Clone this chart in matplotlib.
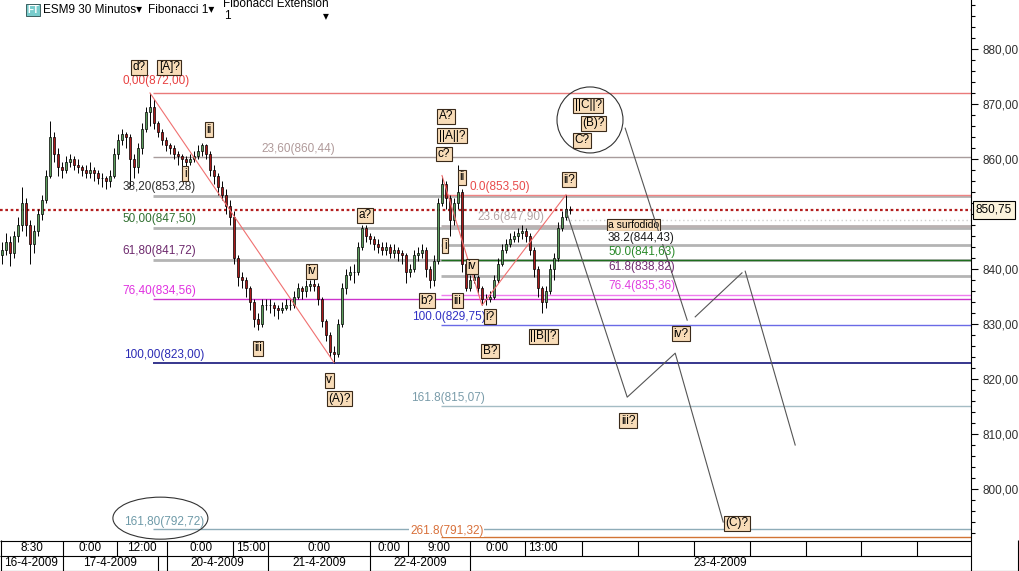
import matplotlib.pyplot as plt
import numpy as np
from matplotlib.patches import Ellipse
from matplotlib.ticker import MultipleLocator, FuncFormatter

plt.rcParams['font.family'] = ['Liberation Sans', 'DejaVu Sans']

# 30 minute bars of ESM9 (open = previous close)
first_open = 842.5
closes = [843.5, 845, 843, 846, 848, 852, 848, 844.5, 847, 850,
          852.5, 857, 864, 861, 858.5, 858, 859.5, 860, 859, 858.5,
          858, 857.5, 858, 857.5, 856.5, 856.5, 856, 857, 861, 863.5,
          864.5, 864, 860, 858.5, 862, 865.5, 868.5, 869.5, 866.5, 865,
          863.5, 862.5, 862, 861, 860.5, 860, 859.5, 860, 860.5, 861.5,
          862.5, 861, 858, 857, 855, 853.5, 851.5, 849.5, 842, 838.5,
          838, 836.5, 834, 831, 830, 833.5, 833.5, 833.5, 833, 832.5,
          833, 833.5, 833.5, 835, 836.5, 836, 837, 837.2, 837, 834.5,
          830.5, 828, 825, 824.5, 830, 836.5, 839, 839.5, 839.5, 844,
          847.5, 846, 845.5, 844.5, 844, 843.5, 844, 843, 843.5, 843,
          842.5, 839.5, 840, 842.5, 843, 843.5, 840, 838, 841.5, 852,
          855.5, 853, 849, 852, 854, 841, 836.5, 838, 838.5, 836.5,
          834.5, 834.5, 835, 838, 841, 843.5, 844.5, 845.5, 846, 846.5,
          847, 846, 843.5, 840, 836.5, 834, 836, 840, 842, 847.5,
          849.5, 851, 850.75]
highs = [845, 846.5, 846, 847, 849.5, 855, 853, 849, 848, 851,
         853.5, 858, 867, 865, 862, 859.5, 860.5, 861, 860.5, 860,
         859, 859, 859.5, 858.5, 858, 857.5, 857, 858, 862, 864.5,
         865.5, 865, 864.5, 861, 863, 866.5, 869.5, 872, 871, 867,
         865.5, 864, 863, 862.5, 861.5, 861, 860.5, 861, 861.5, 862.5,
         863, 862.8, 861.5, 859, 857.5, 856, 854.5, 852.5, 850.5, 842.5,
         839.5, 838.5, 837, 834.5, 832, 834.5, 834.5, 834.5, 834, 833.5,
         834, 834.5, 834.5, 836, 837.5, 837, 838, 838, 838.4, 837.5,
         835, 831, 828.5, 826, 831, 837.5, 840, 840.5, 841, 845,
         848, 848, 846.5, 846, 845.5, 845, 845, 844.5, 844.5, 844,
         843.5, 843, 841, 843.5, 844, 844.5, 844, 840.5, 842.5, 853,
         857, 856, 853.5, 853, 858.9, 854.5, 841.5, 839, 839.5, 839,
         837, 835.5, 836, 839, 842, 844.5, 845.5, 846.5, 847, 847.5,
         848, 847.5, 846.5, 844, 840.5, 837, 837, 841, 843, 848.5,
         850.5, 853.5, 851.5]
lows = [841, 842.5, 840.5, 842, 845, 847, 846, 841, 843, 846,
        849, 852, 856.5, 859.5, 857, 856.5, 857.5, 858.5, 858, 857.5,
        857, 856.5, 856.5, 856, 855.5, 855, 854.5, 855, 856.5, 860,
        862.5, 862, 855, 856.5, 857.5, 861, 865, 866, 865.5, 864,
        862.5, 861.5, 861, 860, 859, 858.5, 858.5, 859, 859.5, 860,
        860.5, 860, 857, 855.5, 853.5, 852.5, 850, 848, 841, 837,
        836.5, 835, 832.5, 829.5, 828.9, 829.5, 832.5, 832, 831.5, 831,
        832, 832.5, 832.5, 833, 834.5, 834.5, 835, 836, 836, 833.5,
        829.5, 827, 824, 823, 824, 829.5, 835.5, 838, 837.5, 839,
        843.5, 845, 844.5, 843.5, 843, 842.5, 842.5, 842, 842, 841.5,
        841, 837.4, 838.5, 839.5, 841.5, 842, 838.5, 836.5, 837, 841,
        851.5, 851, 846, 848, 851, 839.5, 836, 836, 837.5, 835.5,
        833.4, 833.5, 834, 834.5, 837.5, 840.5, 843, 844, 845, 845,
        845.5, 845, 842.5, 838.5, 835, 832, 833, 835.5, 838, 841.5,
        847, 849, 850]
last_price = 850.75

# Fibonacci 1 (872,00 -> 823,00)
fib1_levels = [872.00, 860.44, 853.28, 847.50, 841.72, 834.56, 823.00, 792.72]
fib1_texts = ['0,00(872,00)', '23,60(860,44)', '38,20(853,28)', '50,00(847,50)',
              '61,80(841,72)', '76,40(834,56)', '100,00(823,00)', '161,80(792,72)']
fib1_line_colors = ['#ea7a7a', '#a89c9c', '#b4b4b4', '#b4b4b4', '#b4b4b4',
                    '#cc33cc', '#14147a', '#8eacb8']
fib1_line_widths = [1, 1, 2, 2, 2, 1, 1.2, 1]
fib1_text_colors = ['#e84040', '#b09a9a', '#303030', '#2f6f2f', '#6e2a6e',
                    '#e030e0', '#2a2ab4', '#6e9aa8']
fib1_text_pos = [(30.2, 874.1), (83.2, 861.9), (30.2, 854.9), (30.2, 849.1),
                 (30.2, 843.2), (30.2, 836.0), (30.5, 824.4), (30.5, 794.0)]
fib1_text_ha = ['left', 'right', 'left', 'left', 'left', 'left', 'left', 'left']

# Fibonacci Extension 1 (857,20 / 833,45 / 853,50)
fibx_levels = [853.50, 847.90, 844.43, 841.63, 838.82, 835.36, 829.75, 815.07, 791.32]
fibx_texts = ['0.0(853,50)', '23.6(847,90)', '38.2(844,43)', '50.0(841,63)',
              '61.8(838,82)', '76.4(835,36)', '100.0(829,75)', '161.8(815,07)',
              '261.8(791,32)']
fibx_line_colors = ['#f08484', '#bab2b2', '#b4b4b4', '#1e6e1e', '#b4b4b4',
                    '#f07cf0', '#6a6ae6', '#a4bcc4', '#d27434']
fibx_line_widths = [1, 2, 2, 1, 2, 1, 1, 1, 1]
fibx_text_colors = ['#e84a4a', '#b4a4a4', '#202020', '#2a8a2a', '#702a70',
                    '#e040e0', '#3030c4', '#7a9caa', '#d8703a']
fibx_text_pos = [(117.0, 854.9), (118.8, 849.4), (151.5, 845.7), (151.5, 843.1),
                 (151.5, 840.4), (151.5, 836.9), (102.5, 831.3), (102.3, 816.5),
                 (102.0, 792.4)]

# Elliott wave labels (text, bar, price)
wave_texts = ['d?', '[A]?', 'ii', 'i', 'iii', 'iv', 'v', '(A)?', 'a?', 'b?',
              'A?', '||A||?', 'c?', 'ii', 'i', 'iii', 'iv', 'i?', 'B?', '||B||?',
              'ii?', '||C||?', '(B)?', 'C?', 'iv?', 'iii?', '(C)?']
wave_x = [34.3, 41.8, 51.8, 45.8, 64.0, 77.3, 81.8, 84.3, 90.8, 106.3,
          111.0, 112.5, 110.5, 115.0, 110.8, 113.8, 117.5, 122.0, 122.0, 135.3,
          141.8, 146.5, 147.8, 145.0, 169.8, 156.5, 183.8]
wave_y = [876.7, 876.7, 865.3, 857.3, 825.6, 839.6, 819.8, 816.4, 849.8, 834.2,
          867.8, 864.2, 860.9, 856.7, 844.2, 834.2, 840.5, 831.3, 825.1, 827.8,
          856.2, 869.8, 866.5, 863.4, 828.2, 812.4, 793.8]

# projected paths (bar, price)
proj1_x = [141.0, 156.3, 168.3, 180.3]
proj1_y = [850.7, 816.7, 824.7, 794.0]
proj2_segments = [([155.8, 171.3], [865.6, 830.7]),
                  ([173.3, 185.0], [831.3, 839.3]),
                  ([185.8, 198.3], [839.6, 808.0])]

# time axis
row1_edges = [0, 63, 117, 167, 233, 268, 370, 408, 470, 525, 582, 638, 694,
              750, 806, 861, 917, 971]
row1_texts = ['8:30', '0:00', '12:00', '0:00', '15:00', '0:00', '0:00', '9:00',
              '0:00', '13:00']
row1_pos = [32, 90, 142, 201, 251, 319, 389, 439, 497, 543]
row2_edges = [0, 63, 158, 167, 268, 370, 470, 971]
row2_texts = ['16-4-2009', '17-4-2009', '20-4-2009', '21-4-2009', '22-4-2009', '23-4-2009']
row2_pos = [31, 110, 217, 319, 420, 720]

W, H = 1019, 571
PLOT_R, PLOT_B = 971, 540
Y_TOP, Y_BOT = 888.91, 790.73
UP, DOWN = '#5c9e5c', '#aa1a1a'

fig = plt.figure(figsize=(W / 100, H / 100), dpi=100)
ax = fig.add_axes([0, (H - PLOT_B) / H, PLOT_R / W, PLOT_B / H])
ax.set_xlim(-0.5, -0.5 + PLOT_R / 4)
ax.set_ylim(Y_BOT, Y_TOP)

x_end = -0.5 + PLOT_R / 4
fib1_start = 37.75
fibx_start = 109.75

for lvl, col, lw in zip(fib1_levels, fib1_line_colors, fib1_line_widths):
    ax.hlines(lvl, fib1_start, x_end, color=col, lw=lw, zorder=1)
for lvl, col, lw in zip(fibx_levels, fibx_line_colors, fibx_line_widths):
    ax.hlines(lvl, fibx_start, x_end, color=col, lw=lw, zorder=1)

for t, (tx, ty), col, ha in zip(fib1_texts, fib1_text_pos, fib1_text_colors, fib1_text_ha):
    ax.text(tx, ty, t, color=col, fontsize=8.5, ha=ha, va='center', zorder=6)
for i, (t, (tx, ty), col) in enumerate(zip(fibx_texts, fibx_text_pos, fibx_text_colors)):
    bb = None
    if i in (2, len(fibx_texts) - 1):
        bb = dict(boxstyle='square,pad=0.05', fc='white', ec='none')
    ax.text(tx, ty, t, color=col, fontsize=8.5, ha='left', va='center', zorder=7, bbox=bb)

# note box, mostly covered in the original
ax.text(151.5, 848.0, 'a surfodido', fontsize=7.5, ha='left', va='center', zorder=5,
        bbox=dict(boxstyle='square,pad=0.1', fc='#f8dcb8', ec='#3a2a1a', lw=0.8))

# current price line
ax.axhline(last_price, color='#b41e1e', lw=1.6, ls=(0, (1.2, 1.2)), zorder=2)
ax.hlines(848.9, 141, x_end, color='#d0d0d0', lw=1, ls=(0, (1, 2)), zorder=1)

# trend lines
ax.plot([37, 83], [highs[37], lows[83]], color='#f07070', lw=0.8, zorder=5)
ax.plot([110, 120, 141], [highs[110], lows[120], highs[141]], color='#f07070', lw=0.8, zorder=5)

# candles
opens = np.array([first_open] + closes[:-1])
c = np.array(closes)
x = np.arange(len(closes))
up = c >= opens
ax.vlines(x, lows, highs, color='black', lw=0.7, zorder=3)
ax.bar(x[up], (c - opens)[up], bottom=opens[up], width=0.72, color=UP,
       edgecolor='black', lw=0.5, zorder=4)
ax.bar(x[~up], (opens - c)[~up], bottom=c[~up], width=0.72, color=DOWN,
       edgecolor='black', lw=0.5, zorder=4)

# projections
ax.plot(proj1_x, proj1_y, color='#555555', lw=0.8, zorder=5)
for sx, sy in proj2_segments:
    ax.plot(sx, sy, color='#555555', lw=0.8, zorder=5)

# circles
ax.add_patch(Ellipse((147.0, 867.1), 16.5, 12.0, fill=False, ec='#333333', lw=0.8, zorder=5))
ax.add_patch(Ellipse((39.6, 794.7), 23.75, 7.64, fill=False, ec='#333333', lw=0.8, zorder=5))

box = dict(boxstyle='square,pad=0.12', fc='#f8dcb8', ec='#3a2a1a', lw=0.8)
for t, wx, wy in zip(wave_texts, wave_x, wave_y):
    ax.text(wx, wy, t, fontsize=8.5, ha='center', va='center', bbox=box, zorder=8)


def price_fmt(v, pos):
    if abs(v - 850) < 0.01:  # hidden behind the last price box
        return ''
    return f'{v:.2f}'.replace('.', ',')


# price axis
for s in ['top', 'left', 'bottom']:
    ax.spines[s].set_visible(False)
ax.spines['right'].set_color('black')
ax.set_xticks([])
ax.yaxis.tick_right()
ax.yaxis.set_major_locator(MultipleLocator(10))
ax.yaxis.set_minor_locator(MultipleLocator(2))
ax.yaxis.set_major_formatter(FuncFormatter(price_fmt))
ax.tick_params(axis='y', which='major', length=5, width=0.8, labelsize=8.5,
               labelcolor='#303030', pad=3)
ax.tick_params(axis='y', which='minor', length=3, width=0.8)
ax.text(1.005, last_price, '850,75', transform=ax.get_yaxis_transform(), fontsize=8.5,
        ha='left', va='center', zorder=10, clip_on=False,
        bbox=dict(boxstyle='square,pad=0.25', fc='#fbf3dc', ec='black', lw=0.8))

# header
fig.text(27 / W, 1 - 10 / H, 'FT', fontsize=7, color='white', fontweight='bold',
         va='center', bbox=dict(boxstyle='square,pad=0.1', fc='#78cccc', ec='#2a4a4a', lw=0.6))
fig.text(43 / W, 1 - 10 / H, 'ESM9 30 Minutos\u25be', fontsize=8.5, va='center')
fig.text(148 / W, 1 - 10 / H, 'Fibonacci 1\u25be', fontsize=8.5, va='center')
fig.text(223 / W, 1 - 4 / H, 'Fibonacci Extension', fontsize=8.5, va='center')
fig.text(224 / W, 1 - 16 / H, '1', fontsize=8.5, va='center')
fig.text(323 / W, 1 - 16 / H, '\u25be', fontsize=8.5, va='center')

# time axis table
tax = fig.add_axes([0, 0, 1, (H - PLOT_B) / H])
tax.set_xlim(0, W)
tax.set_ylim(H, PLOT_B)
tax.axis('off')
tax.hlines([540.5, 555.5], 0, PLOT_R, color='black', lw=0.8)
tax.hlines(570.5, 0, W, color='black', lw=0.8)
tax.vlines(0.5, 540, 571, color='black', lw=0.8)
tax.vlines(W - 0.5, 540, 571, color='black', lw=0.8)
tax.vlines(row1_edges[1:-1], 540.5, 555.5, color='black', lw=0.8)
tax.vlines(row2_edges[1:-1], 555.5, 570.5, color='black', lw=0.8)
tax.vlines(PLOT_R, 540, 571, color='black', lw=0.8)
for t, px in zip(row1_texts, row1_pos):
    tax.text(px, 548, t, fontsize=8.5, ha='center', va='center')
for t, px in zip(row2_texts, row2_pos):
    tax.text(px, 563, t, fontsize=8.5, ha='center', va='center')

fig.savefig('out.png', dpi=100)
